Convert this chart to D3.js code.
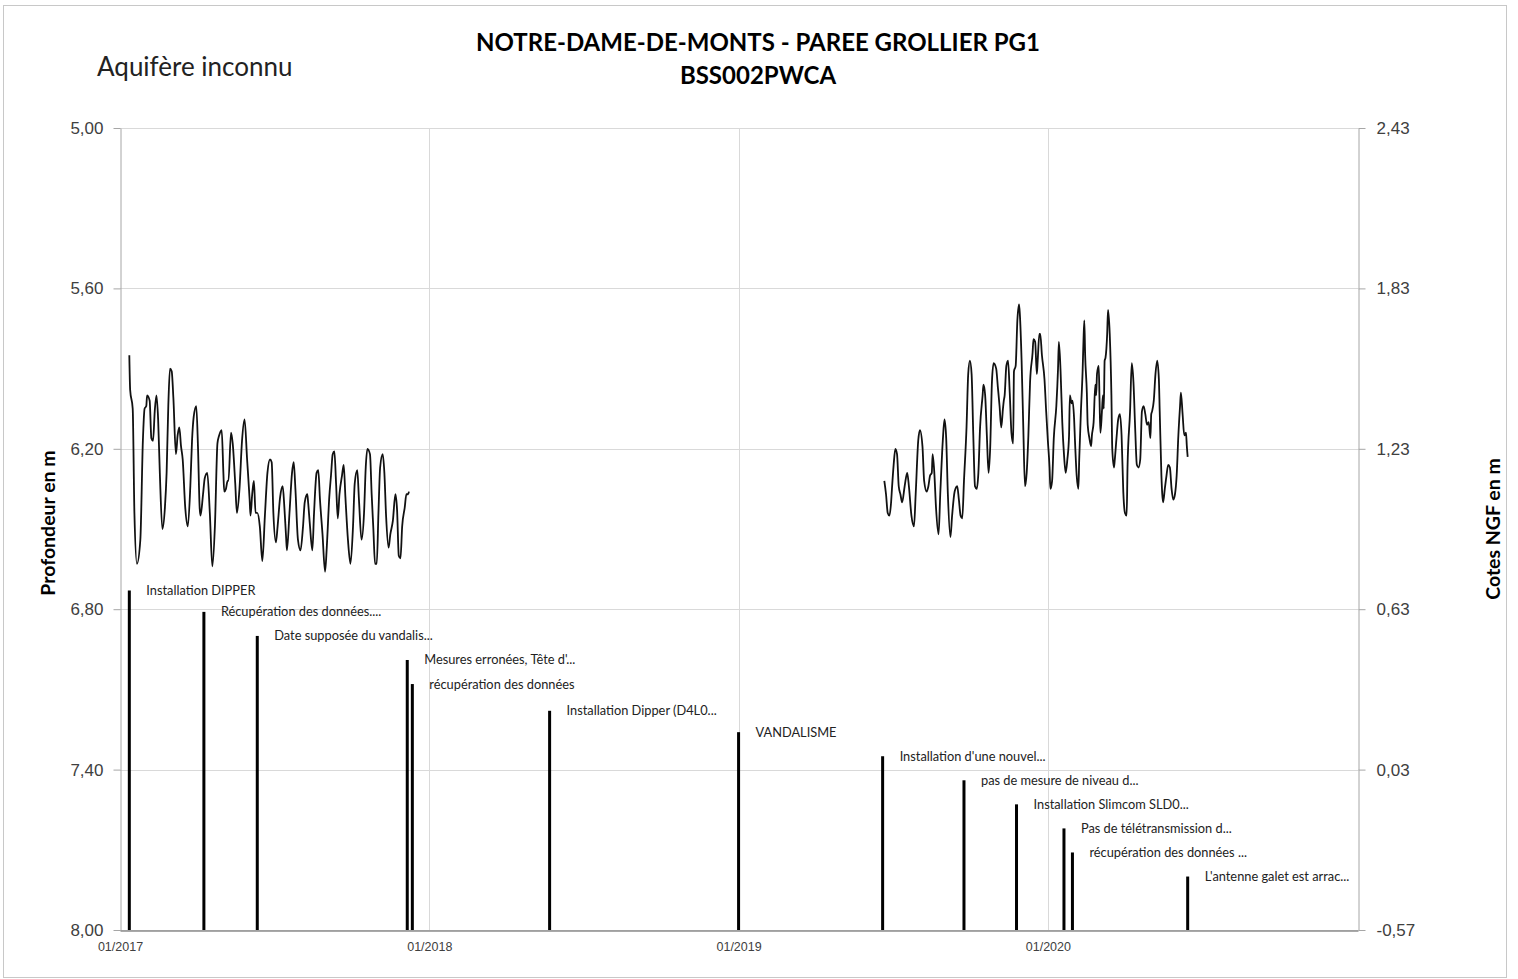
<!DOCTYPE html>
<html lang="fr">
<head>
<meta charset="utf-8">
<title>NOTRE-DAME-DE-MONTS - PAREE GROLLIER PG1</title>
<script src="https://cdn.jsdelivr.net/npm/d3@7/dist/d3.min.js"></script>
<style>
  html, body { margin: 0; padding: 0; background: #fff; }
  svg { display: block; font-family: Lato, "Open Sans", sans-serif; }
</style>
</head>
<body>
<svg id="chart" width="1518" height="979"></svg>
<script>
// ---- Data -------------------------------------------------------------
// Day numbers count days since 1 January 2017 (UTC); depths in metres.
const RECORD_ORIGIN = "2017-01-01";

// First recording period (Jan–Dec 2017)
const period1Days = [11, 12, 15, 17, 20, 24, 27, 29, 31, 32, 35, 37, 39, 41, 43, 45, 47, 50, 53, 55,
  57, 59, 61, 63, 66, 68, 70, 72, 74, 77, 80, 83, 85, 87, 90, 92, 94, 95, 98, 100,
  103, 106, 109, 112, 115, 117, 120, 122, 123, 125, 127, 128, 131, 133, 136, 138, 141, 144, 147, 150,
  153, 154, 156, 158, 160, 162, 165, 168, 171, 174, 177, 179, 181, 184, 186, 189, 192, 194, 196, 197,
  200, 203, 205, 207, 210, 213, 216, 218, 221, 222, 224, 227, 229, 232, 234, 236, 239, 242, 244, 247,
  249, 251, 253, 255, 257, 259, 262, 264, 266, 269, 272, 275, 277, 280, 282, 285, 288, 290, 292, 295,
  297, 299, 301, 303, 305, 307, 310, 312, 314, 317, 319, 322, 325, 327, 329, 331, 333, 336, 338, 340, 341];
const period1Depth = [5.85, 5.98, 6.05, 6.44, 6.63, 6.54, 6.17, 6.05, 6.04, 6.00, 6.02, 6.16, 6.17, 6.06, 6.00, 6.09, 6.29, 6.50, 6.42, 6.29,
  6.04, 5.90, 5.91, 6.01, 6.22, 6.15, 6.12, 6.19, 6.24, 6.42, 6.49, 6.34, 6.17, 6.08, 6.04, 6.19, 6.42, 6.45, 6.37, 6.31,
  6.29, 6.44, 6.64, 6.49, 6.18, 6.15, 6.13, 6.29, 6.36, 6.35, 6.32, 6.32, 6.14, 6.18, 6.33, 6.44, 6.35, 6.17, 6.09, 6.24,
  6.39, 6.45, 6.37, 6.32, 6.44, 6.44, 6.49, 6.62, 6.45, 6.29, 6.24, 6.25, 6.44, 6.55, 6.49, 6.38, 6.34, 6.42, 6.53, 6.58,
  6.44, 6.29, 6.25, 6.35, 6.54, 6.58, 6.49, 6.40, 6.37, 6.40, 6.48, 6.58, 6.44, 6.29, 6.28, 6.39, 6.52, 6.66, 6.57, 6.38,
  6.30, 6.22, 6.21, 6.33, 6.46, 6.37, 6.30, 6.26, 6.38, 6.54, 6.63, 6.49, 6.33, 6.28, 6.39, 6.54, 6.44, 6.27, 6.20, 6.22,
  6.37, 6.50, 6.63, 6.63, 6.44, 6.27, 6.22, 6.29, 6.45, 6.57, 6.52, 6.47, 6.37, 6.43, 6.60, 6.61, 6.49, 6.42, 6.37, 6.37, 6.36];

// Second recording period (Jun 2019 – Jun 2020)
const period2Days = [902, 904, 906, 908, 910, 911, 913, 915, 917, 919, 921, 923, 926, 929, 931, 934, 937, 939, 942, 944,
  947, 949, 952, 954, 956, 958, 959, 961, 963, 966, 968, 971, 973, 975, 977, 980, 982, 985, 988, 990,
  992, 994, 996, 999, 1001, 1003, 1005, 1007, 1009, 1011, 1013, 1015, 1018, 1019, 1021, 1023, 1025, 1027, 1029, 1031,
  1034, 1036, 1038, 1040, 1042, 1043, 1044, 1046, 1048, 1050, 1052, 1054, 1055, 1057, 1059, 1061, 1062, 1064, 1066, 1068,
  1070, 1072, 1074, 1077, 1078, 1080, 1082, 1083, 1085, 1086, 1088, 1091, 1093, 1095, 1097, 1098, 1100, 1102, 1105, 1107,
  1108, 1110, 1112, 1114, 1116, 1118, 1120, 1121, 1123, 1124, 1126, 1127, 1129, 1131, 1132, 1134, 1136, 1137, 1138, 1139,
  1141, 1142, 1144, 1146, 1147, 1149, 1151, 1152, 1153, 1155, 1156, 1157, 1159, 1160, 1161, 1162, 1163, 1165, 1166, 1168,
  1170, 1171, 1173, 1174, 1176, 1178, 1180, 1182, 1184, 1186, 1188, 1189, 1192, 1194, 1196, 1198, 1200, 1202, 1204, 1206,
  1208, 1210, 1212, 1214, 1216, 1217, 1218, 1220, 1222, 1224, 1226, 1227, 1229, 1230, 1231, 1233, 1235, 1237, 1239, 1241,
  1243, 1245, 1247, 1249, 1251, 1252, 1254, 1256, 1258, 1259, 1260];
const period2Depth = [6.32, 6.37, 6.44, 6.45, 6.40, 6.35, 6.26, 6.20, 6.22, 6.34, 6.37, 6.40, 6.34, 6.29, 6.34, 6.45, 6.49, 6.37, 6.17, 6.13,
  6.19, 6.32, 6.36, 6.34, 6.30, 6.29, 6.22, 6.29, 6.42, 6.52, 6.37, 6.17, 6.09, 6.16, 6.37, 6.53, 6.45, 6.36, 6.34, 6.39,
  6.45, 6.46, 6.32, 6.12, 5.92, 5.87, 5.92, 6.15, 6.34, 6.35, 6.29, 6.12, 6.00, 5.96, 6.00, 6.15, 6.29, 6.19, 5.95, 5.88,
  5.90, 5.97, 6.04, 6.12, 6.05, 6.02, 6.00, 5.89, 5.87, 5.99, 6.14, 6.18, 5.91, 5.89, 5.72, 5.66, 5.70, 5.87, 6.12, 6.34,
  6.29, 6.15, 5.95, 5.84, 5.79, 5.80, 5.92, 5.87, 5.77, 5.77, 5.85, 5.94, 6.06, 6.17, 6.27, 6.35, 6.32, 6.16, 6.04, 5.90,
  5.80, 5.91, 6.10, 6.22, 6.29, 6.24, 6.15, 6.00, 6.03, 6.02, 6.09, 6.17, 6.30, 6.35, 6.24, 6.06, 5.91, 5.80, 5.72, 5.85,
  5.99, 6.11, 6.16, 6.19, 6.15, 6.10, 5.96, 6.00, 5.92, 5.89, 6.02, 6.14, 6.05, 6.00, 6.05, 5.87, 5.86, 5.77, 5.68, 5.77,
  6.00, 6.20, 6.27, 6.24, 6.16, 6.09, 6.07, 6.15, 6.36, 6.44, 6.45, 6.27, 6.06, 5.88, 5.95, 6.12, 6.26, 6.27, 6.24, 6.06,
  6.04, 6.07, 6.11, 6.10, 6.16, 6.07, 6.06, 6.02, 5.92, 5.87, 5.94, 6.06, 6.30, 6.37, 6.40, 6.35, 6.30, 6.26, 6.27, 6.35,
  6.39, 6.37, 6.30, 6.15, 6.04, 5.99, 6.07, 6.15, 6.14, 6.19, 6.23];

// Site events: date, marker height (depth scale) and comment
const eventDates = ["2017-01-12", "2017-04-10", "2017-06-12", "2017-12-06", "2017-12-12", "2018-05-23",
  "2019-01-01", "2019-06-20", "2019-09-24", "2019-11-25", "2020-01-20", "2020-01-30", "2020-06-14"];
const eventLevels = [6.73, 6.81, 6.90, 6.99, 7.08, 7.18, 7.26, 7.35, 7.44, 7.53, 7.62, 7.71, 7.80];
const eventLabels = ["Installation DIPPER", "Récupération des données....", "Date supposée du vandalis...",
  "Mesures erronées, Tête d'...", "récupération des données", "Installation Dipper (D4L0...",
  "VANDALISME", "Installation d'une nouvel...", "pas de mesure de niveau d...",
  "Installation Slimcom SLD0...", "Pas de télétransmission d...", "récupération des données ...",
  "L'antenne galet est arrac..."];

// Axis ticks
const depthTicks = [5.00, 5.60, 6.20, 6.80, 7.40, 8.00];
const ngfTicks = [2.43, 1.83, 1.23, 0.63, 0.03, -0.57];
const yearTicks = ["2017-01-01", "2018-01-01", "2019-01-01", "2020-01-01"];
const timeDomain = ["2017-01-01", "2021-01-01"];

// ---- Layout -----------------------------------------------------------
const plot = { left: 120, right: 1358, top: 128, bottom: 930 };
const gridColor = "#d9d9d9";
const axisColor = "#a6a6a6";
const textColor = "#404040";

const parseDay = d3.utcParse("%Y-%m-%d");
const origin = parseDay(RECORD_ORIGIN);
const fr = d3.formatLocale({ decimal: ",", thousands: " ", grouping: [3], currency: ["", " €"], minus: "-" });
const fmt2 = fr.format(".2f");

const svg = d3.select("#chart");

const x = d3.scaleUtc().domain(timeDomain.map(parseDay)).range([plot.left, plot.right]);
const yDepth = d3.scaleLinear().domain([5, 8]).range([plot.top, plot.bottom]);
const yNgf = d3.scaleLinear().domain([2.43, -0.57]).range([plot.top, plot.bottom]);

// Outer frame
svg.append("rect")
  .attr("x", 3.5).attr("y", 5.5).attr("width", 1503).attr("height", 972)
  .attr("fill", "#fff").attr("stroke", "#c8c8c8").attr("stroke-width", 1);

// Gridlines
const grid = svg.append("g").attr("class", "grid");
grid.selectAll("line.h").data(depthTicks).join("line")
  .attr("class", "h")
  .attr("x1", plot.left).attr("x2", plot.right)
  .attr("y1", d => Math.round(yDepth(d)) + 0.5).attr("y2", d => Math.round(yDepth(d)) + 0.5)
  .attr("stroke", gridColor);
grid.selectAll("line.v").data(yearTicks.slice(1).map(parseDay)).join("line")
  .attr("class", "v")
  .attr("y1", plot.top).attr("y2", plot.bottom)
  .attr("x1", d => Math.round(x(d)) + 0.5).attr("x2", d => Math.round(x(d)) + 0.5)
  .attr("stroke", gridColor);

// Axes
const styleAxis = g => {
  g.select(".domain").attr("stroke", axisColor);
  g.selectAll(".tick line").attr("stroke", axisColor);
  g.selectAll(".tick text").attr("fill", textColor);
};

svg.append("g")
  .attr("transform", `translate(${plot.left + 0.5},0)`)
  .call(d3.axisLeft(yDepth).tickValues(depthTicks).tickFormat(fmt2).tickSize(7).tickSizeOuter(0).tickPadding(10))
  .call(styleAxis)
  .call(g => g.selectAll(".tick text").attr("font-size", 17));

svg.append("g")
  .attr("transform", `translate(${plot.right + 0.5},0)`)
  .call(d3.axisRight(yNgf).tickValues(ngfTicks).tickFormat(fmt2).tickSize(7).tickSizeOuter(0).tickPadding(11))
  .call(styleAxis)
  .call(g => g.selectAll(".tick text").attr("font-size", 17));

svg.append("g")
  .attr("transform", `translate(0,${plot.bottom + 0.5})`)
  .call(d3.axisBottom(x).tickValues(yearTicks.map(parseDay)).tickFormat(d3.utcFormat("%m/%Y")).tickSize(0).tickSizeOuter(0).tickPadding(12))
  .call(styleAxis)
  .call(g => g.select(".domain").attr("stroke", "#8c8c8c").attr("stroke-width", 1.5))
  .call(g => g.selectAll(".tick text").attr("font-size", 12.5));

// Depth series
const line = d3.line()
  .x(d => x(d3.utcDay.offset(origin, d[0])))
  .y(d => yDepth(d[1]))
  .curve(d3.curveMonotoneX);

[[period1Days, period1Depth], [period2Days, period2Depth]].forEach(([days, depth]) => {
  svg.append("path")
    .datum(d3.zip(days, depth))
    .attr("d", line)
    .attr("fill", "none")
    .attr("stroke", "#111")
    .attr("stroke-width", 1.8)
    .attr("stroke-linejoin", "round");
});

// Event markers and their comments
const events = d3.zip(eventDates, eventLevels, eventLabels)
  .map(([d, v, t]) => ({ date: parseDay(d), level: v, text: t }));

const ev = svg.append("g").attr("class", "events");
ev.selectAll("rect").data(events).join("rect")
  .attr("x", d => x(d.date) - 1.5)
  .attr("width", 3)
  .attr("y", d => yDepth(d.level))
  .attr("height", d => yDepth(8) - yDepth(d.level))
  .attr("fill", "#000");
ev.selectAll("text").data(events).join("text")
  .attr("x", d => x(d.date) + 17)
  .attr("y", d => yDepth(d.level))
  .attr("dy", "0.35em")
  .attr("font-size", 12.8)
  .attr("fill", "#222")
  .text(d => d.text);

// Titles
svg.append("text")
  .attr("x", 758).attr("y", 51)
  .attr("text-anchor", "middle")
  .attr("font-size", 24).attr("font-weight", 700).attr("fill", "#000")
  .text("NOTRE-DAME-DE-MONTS - PAREE GROLLIER PG1");
svg.append("text")
  .attr("x", 758).attr("y", 84)
  .attr("text-anchor", "middle")
  .attr("font-size", 24).attr("font-weight", 700).attr("fill", "#000")
  .text("BSS002PWCA");
svg.append("text")
  .attr("x", 97).attr("y", 76)
  .attr("font-size", 26).attr("fill", "#222")
  .text("Aquifère inconnu");

svg.append("text")
  .attr("transform", `translate(55,${(plot.top + plot.bottom) / 2 - 6}) rotate(-90)`)
  .attr("text-anchor", "middle")
  .attr("font-size", 19.5).attr("font-weight", 700).attr("fill", "#000")
  .text("Profondeur en m");
svg.append("text")
  .attr("transform", `translate(1500,${(plot.top + plot.bottom) / 2}) rotate(-90)`)
  .attr("text-anchor", "middle")
  .attr("font-size", 19.5).attr("font-weight", 700).attr("fill", "#000")
  .text("Cotes NGF en m");
</script>
</body>
</html>
